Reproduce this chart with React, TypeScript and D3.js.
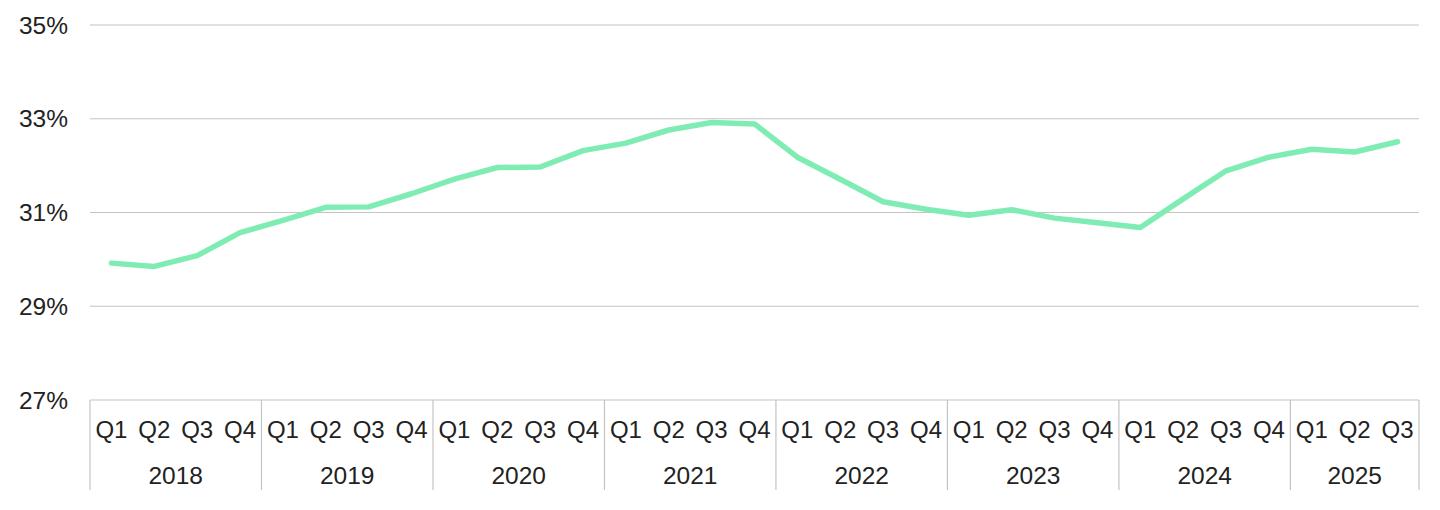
import React from "react";
import * as d3 from "d3";

const years = ["2018", "2019", "2020", "2021", "2022", "2023", "2024", "2025"];
const quarters = ["Q1", "Q2", "Q3", "Q4"];
const quartersPerYear = [4, 4, 4, 4, 4, 4, 4, 3];
const values = [
  29.92, 29.85, 30.08, 30.57,
  30.83, 31.11, 31.12, 31.40,
  31.71, 31.96, 31.97, 32.32,
  32.48, 32.76, 32.92, 32.89,
  32.18, 31.71, 31.23, 31.07,
  30.94, 31.06, 30.88, 30.78,
  30.68, 31.29, 31.89, 32.18,
  32.35, 32.29, 32.51,
];
const yTicks = [27, 29, 31, 33, 35];

const W = 1440;
const H = 510;
const left = 90;
const right = 1419;
const top = 25;
const bottom = 400;
const font = "'Liberation Sans', Arial, sans-serif";
const textColor = "#222";
const gridColor = "#c4c4c4";

type Cat = { key: string; q: string; year: string };
const cats: Cat[] = [];
years.forEach((y, i) => {
  for (let k = 0; k < quartersPerYear[i]; k++) {
    cats.push({ key: `${y}-${quarters[k]}`, q: quarters[k], year: y });
  }
});

export default function App() {
  const x = d3.scaleBand<string>().domain(cats.map((c) => c.key)).range([left, right]).padding(0);
  const y = d3.scaleLinear().domain([27, 35]).range([bottom, top]);
  const line = d3
    .line<number>()
    .x((_, i) => (x(cats[i].key) as number) + x.bandwidth() / 2)
    .y((d) => y(d));

  const yearGroups: { year: string; x0: number; x1: number }[] = [];
  let idx = 0;
  years.forEach((yr, i) => {
    const first = cats[idx].key;
    const last = cats[idx + quartersPerYear[i] - 1].key;
    yearGroups.push({
      year: yr,
      x0: x(first) as number,
      x1: (x(last) as number) + x.bandwidth(),
    });
    idx += quartersPerYear[i];
  });

  return (
    <svg
      width={W}
      height={H}
      style={{ position: "absolute", left: 0, top: 0, background: "#fff" }}
      fontFamily={font}
    >
      {yTicks.map((t) => (
        <g key={t}>
          <line x1={left} x2={right} y1={y(t)} y2={y(t)} stroke={gridColor} strokeWidth={1.2} />
          <text x={68} y={y(t)} dy="0.35em" textAnchor="end" fontSize={24.5} fill={textColor}>
            {t}%
          </text>
        </g>
      ))}
      {yearGroups.map((g, i) => (
        <g key={g.year}>
          {i === 0 && (
            <line x1={g.x0} x2={g.x0} y1={bottom} y2={490} stroke={gridColor} strokeWidth={1.2} />
          )}
          <line x1={g.x1} x2={g.x1} y1={bottom} y2={490} stroke={gridColor} strokeWidth={1.2} />
          <text
            x={(g.x0 + g.x1) / 2}
            y={475}
            dy="0.35em"
            textAnchor="middle"
            fontSize={24.5}
            fill={textColor}
          >
            {g.year}
          </text>
        </g>
      ))}
      {cats.map((c) => (
        <text
          key={c.key}
          x={(x(c.key) as number) + x.bandwidth() / 2}
          y={430}
          dy="0.35em"
          textAnchor="middle"
          fontSize={24}
          fill={textColor}
        >
          {c.q}
        </text>
      ))}
      <path
        d={line(values) || ""}
        fill="none"
        stroke="#7fedb3"
        strokeWidth={5.5}
        strokeLinejoin="round"
        strokeLinecap="round"
      />
    </svg>
  );
}
